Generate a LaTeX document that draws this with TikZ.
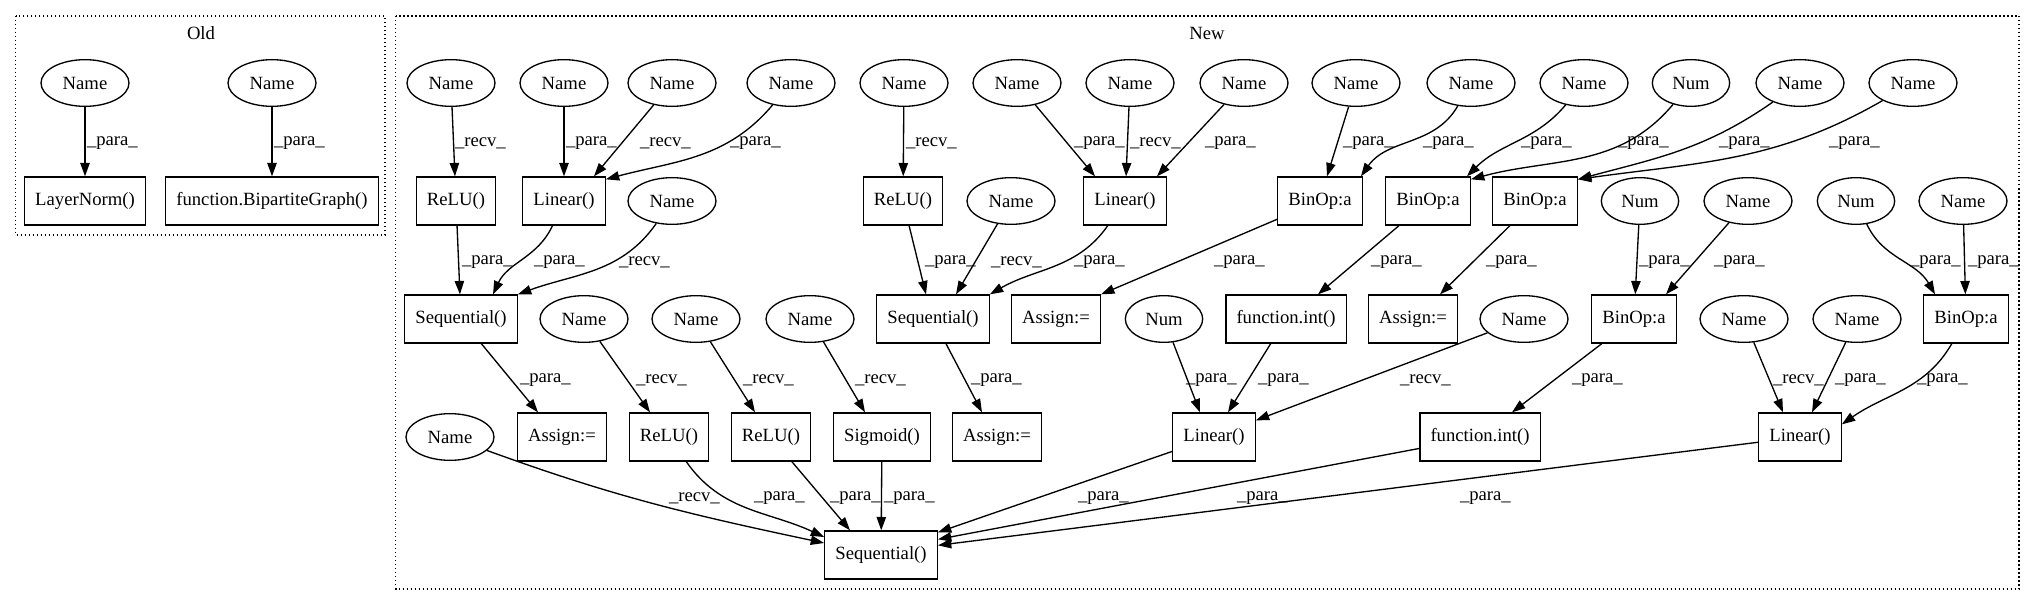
\documentclass[tikz,border=0pt]{standalone}
\usepackage{fontspec}
\setmainfont{Liberation Serif}
\usetikzlibrary{arrows.meta,shapes.geometric,positioning}

\begin{document}
\begin{tikzpicture}[x=0.75pt, y=-0.75pt,
    every node/.style={font=\fontsize{14}{16}\selectfont},
    namenode/.style={ellipse, draw, line width=1pt, minimum width=66pt,
                     minimum height=35pt, inner sep=0pt},
    numnode/.style={namenode, minimum width=58pt},
    opbox/.style={rectangle, draw, line width=1pt, minimum width=54pt,
                  minimum height=36pt, inner xsep=8pt},
    flow/.style={-{Triangle[length=10pt,width=7pt]}, line width=1pt},
    lbl/.style={anchor=west, inner sep=1pt},
    cluster/.style={draw, dotted, line width=1pt}
  ]
    \useasboundingbox (0,0) rectangle (2035,606);

    % Clusters
    \draw[cluster] (15.6,16) rectangle (385,235);
    \draw[cluster] (395.5,16) rectangle (2019,589);
    \node (oldlbl) at (201,33) {Old};
    \node (newlbl) at (1207,33) {New};

    % Old
    \node[namenode] (oname1) at (85,83)  {Name};
    \node[namenode] (oname2) at (272,83) {Name};
    \node[opbox] (layernorm) at (85,201)  {LayerNorm()};
    \node[opbox] (bipartite) at (272,201) {function.BipartiteGraph()};
    \draw[flow] (oname1) -- (layernorm) node[lbl] at (85,143) {\_para\_};
    \draw[flow] (oname2) -- (bipartite) node[lbl] at (272,143) {\_para\_};

    % New: row 1
    \node[namenode] (n1)  at (451,83)  {Name};
    \node[namenode] (n2)  at (564,83)  {Name};
    \node[namenode] (n3)  at (672,83)  {Name};
    \node[namenode] (n4)  at (791,83)  {Name};
    \node[namenode] (n5)  at (904,83)  {Name};
    \node[namenode] (n6)  at (1017,83) {Name};
    \node[namenode] (n7)  at (1130,83) {Name};
    \node[namenode] (n8)  at (1244,83) {Name};
    \node[namenode] (n9)  at (1356,83) {Name};
    \node[namenode] (n10) at (1471,83) {Name};
    \node[namenode] (n11) at (1584,83) {Name};
    \node[numnode]  (num1) at (1691,83) {Num};
    \node[namenode] (n12) at (1800,83) {Name};
    \node[namenode] (n13) at (1913,83) {Name};

    % New: row 2
    \node[opbox] (relu1)   at (456,201)  {ReLU()};
    \node[opbox] (linear1) at (564,201)  {Linear()};
    \node[namenode] (n14)  at (672,201)  {Name};
    \node[opbox] (relu2)   at (903,201)  {ReLU()};
    \node[namenode] (n15)  at (1011,201) {Name};
    \node[opbox] (linear2) at (1125,201) {Linear()};
    \node[opbox] (binop1)  at (1320,201) {BinOp:a};
    \node[opbox] (binop2)  at (1428,201) {BinOp:a};
    \node[opbox] (binop3)  at (1535,201) {BinOp:a};
    \node[numnode]  (num2) at (1640,201) {Num};
    \node[namenode] (n16)  at (1748,201) {Name};
    \node[numnode]  (num3) at (1856,201) {Num};
    \node[namenode] (n17)  at (1963,201) {Name};

    % New: row 3
    \node[opbox] (seq1)    at (461,319)  {Sequential()};
    \node[namenode] (n18)  at (584,319)  {Name};
    \node[namenode] (n19)  at (696,319)  {Name};
    \node[namenode] (n20)  at (810,319)  {Name};
    \node[opbox] (seq2)    at (933,319)  {Sequential()};
    \node[opbox] (assign2) at (1056,319) {Assign:=};
    \node[numnode]  (num4) at (1164,319) {Num};
    \node[opbox] (fint1)   at (1286,319) {function.int()};
    \node[opbox] (assign4) at (1413,319) {Assign:=};
    \node[namenode] (n21)  at (1524,319) {Name};
    \node[opbox] (binop4)  at (1634,319) {BinOp:a};
    \node[namenode] (n22)  at (1744,319) {Name};
    \node[namenode] (n23)  at (1857,319) {Name};
    \node[opbox] (binop5)  at (1966,319) {BinOp:a};

    % New: row 4
    \node[namenode] (n24)  at (450,437)  {Name};
    \node[opbox] (assign1) at (562,437)  {Assign:=};
    \node[opbox] (relu3)   at (669,437)  {ReLU()};
    \node[opbox] (relu4)   at (771,437)  {ReLU()};
    \node[opbox] (sigmoid) at (882,437)  {Sigmoid()};
    \node[opbox] (assign3) at (997,437)  {Assign:=};
    \node[opbox] (linear3) at (1214,437) {Linear()};
    \node[opbox] (fint2)   at (1480,437) {function.int()};
    \node[opbox] (linear4) at (1800,437) {Linear()};

    % New: row 5
    \node[opbox] (seq3) at (881,555) {Sequential()};

    % First Sequential
    \draw[flow] (n1) -- (relu1) node[lbl] at (453,143) {\_recv\_};
    \draw[flow] (n2) -- (linear1) node[lbl] at (564,143) {\_para\_};
    \draw[flow] (n3) -- ([shift={(30,0)}]linear1.north) node[lbl] at (638,143) {\_recv\_};
    \draw[flow] (n4) to[out=-130, in=15] ([shift={(0,3)}]linear1.north east) node[lbl] at (728,143) {\_para\_};
    \draw[flow] (relu1) -- (seq1) node[lbl] at (460,262) {\_para\_};
    \draw[flow] (linear1) to[out=-115, in=65] ([shift={(32,0)}]seq1.north) node[lbl] at (532,262) {\_para\_};
    \draw[flow] (n14) to[out=-125, in=20] (seq1.north east) node[lbl] at (617,262) {\_recv\_};
    \draw[flow] (seq1) -- ([shift={(-24,0)}]assign1.north) node[lbl] at (518,380) {\_para\_};

    % Second Sequential
    \draw[flow] (n5) -- (relu2) node[lbl] at (904,143) {\_recv\_};
    \draw[flow] (n6) -- ([shift={(-30,0)}]linear2.north) node[lbl] at (1072,143) {\_para\_};
    \draw[flow] (n7) -- (linear2) node[lbl] at (1128,143) {\_recv\_};
    \draw[flow] (n8) -- ([shift={(32,0)}]linear2.north) node[lbl] at (1203,143) {\_para\_};
    \draw[flow] (relu2) -- ([shift={(-7,0)}]seq2.north) node[lbl] at (923,262) {\_para\_};
    \draw[flow] (n15) -- ([shift={(23,0)}]seq2.north) node[lbl] at (989,262) {\_recv\_};
    \draw[flow] (linear2) to[out=-125, in=30] (seq2.north east) node[lbl] at (1072,262) {\_para\_};
    \draw[flow] (seq2) -- ([shift={(-15,0)}]assign3.north) node[lbl] at (969,380) {\_para\_};

    % BinOps
    \draw[flow] (n9) -- ([shift={(7,0)}]binop1.north) node[lbl] at (1341,143) {\_para\_};
    \draw[flow] (n10) to[out=-120, in=55] ([shift={(-2,0)}]binop1.north east) node[lbl] at (1421,143) {\_para\_};
    \draw[flow] (n11) to[out=-130, in=45] ([shift={(-4,0)}]binop2.north east) node[lbl] at (1519,143) {\_para\_};
    \draw[flow] (num1) to[out=-130, in=15] ([shift={(0,3)}]binop2.north east) node[lbl] at (1616,143) {\_para\_};
    \draw[flow] (n12) to[out=-145, in=15] ([shift={(0,3)}]binop3.north east) node[lbl] at (1717,143) {\_para\_};
    \draw[flow] (n13) to[out=-150, in=8] ([shift={(0,3)}]binop3.north east) node[lbl] at (1827,143) {\_para\_};
    \draw[flow] (binop1) -- (assign2.north east) node[lbl] at (1212,262) {\_para\_};
    \draw[flow] (binop2) -- ([shift={(32,0)}]fint1.north) node[lbl] at (1369,262) {\_para\_};
    \draw[flow] (binop3) -- ([shift={(27,0)}]assign4.north) node[lbl] at (1484,262) {\_para\_};
    \draw[flow] (num2) -- (binop4) node[lbl] at (1637,262) {\_para\_};
    \draw[flow] (n16) -- ([shift={(32,0)}]binop4.north) node[lbl] at (1712,262) {\_para\_};
    \draw[flow] (num3) to[out=-65, in=120] ([shift={(-31,0)}]binop5.north) node[lbl] at (1908,262) {\_para\_};
    \draw[flow] (n17) -- (binop5) node[lbl] at (1966,262) {\_para\_};

    % Linear / int layer
    \draw[flow] (num4) -- ([shift={(-14,0)}]linear3.north) node[lbl] at (1184,380) {\_para\_};
    \draw[flow] (fint1) -- ([shift={(14,0)}]linear3.north) node[lbl] at (1256,380) {\_para\_};
    \draw[flow] (n21) -- ([shift={(0,8)}]linear3.north east) node[lbl] at (1398,380) {\_recv\_};
    \draw[flow] (binop4) -- ([shift={(32,0)}]fint2.north) node[lbl] at (1570,380) {\_para\_};
    \draw[flow] (n22) -- ([shift={(-17,0)}]linear4.north) node[lbl] at (1771,380) {\_recv\_};
    \draw[flow] (n23) -- ([shift={(12,0)}]linear4.north) node[lbl] at (1833,380) {\_para\_};
    \draw[flow] (binop5) to[out=-120, in=35] ([shift={(0,12)}]linear4.north east) node[lbl] at (1915,380) {\_para\_};

    % Activations
    \draw[flow] (n18) -- ([shift={(-19,0)}]relu3.north) node[lbl] at (634,380) {\_recv\_};
    \draw[flow] (n19) -- ([shift={(-16,0)}]relu4.north) node[lbl] at (741,380) {\_recv\_};
    \draw[flow] (n20) -- ([shift={(-17,0)}]sigmoid.north) node[lbl] at (853,380) {\_recv\_};

    % Final Sequential
    \draw[flow] (n24) to[out=-20, in=168] ([shift={(0,-12)}]seq3.west) node[lbl] at (667,498) {\_recv\_};
    \draw[flow] (relu3) to[out=-55, in=155] ([shift={(0,-18)}]seq3.west) node[lbl] at (752,498) {\_para\_};
    \draw[flow] (relu4) -- ([shift={(-31,0)}]seq3.north) node[lbl] at (828,498) {\_para\_};
    \draw[flow] (sigmoid) -- (seq3) node[lbl] at (882,498) {\_para\_};
    \draw[flow] (linear3) -- ([shift={(0,2)}]seq3.north east) node[lbl] at (1076,498) {\_para\_};
    \draw[flow] (fint2) -- ([shift={(0,9)}]seq3.north east) node[lbl] at (1235,498) {\_para\_};
    \draw[flow] (linear4) -- ([shift={(0,15)}]seq3.north east) node[lbl] at (1458,498) {\_para\_};
  \end{tikzpicture}
\end{document}
